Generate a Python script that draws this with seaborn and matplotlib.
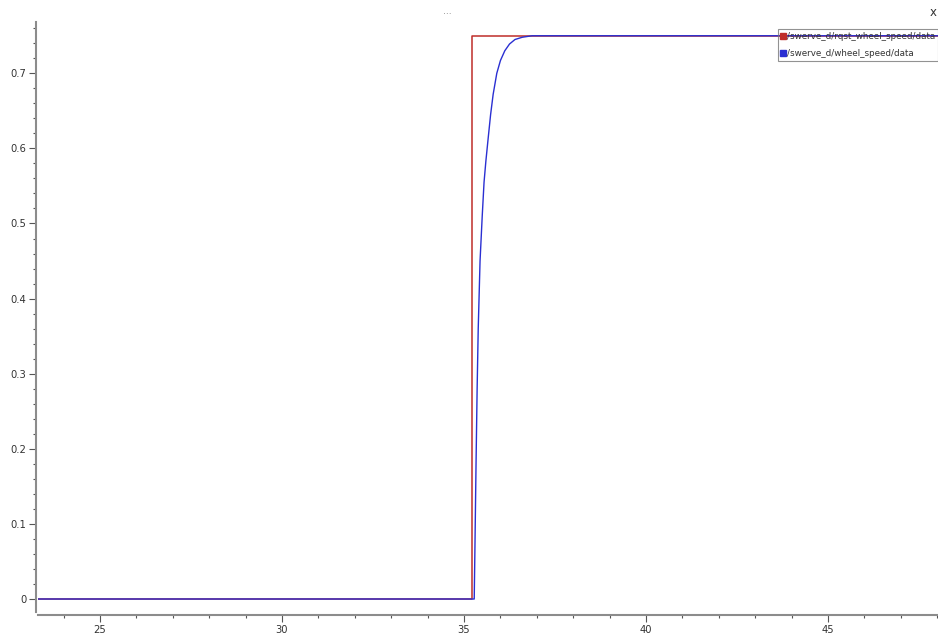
import numpy as np
import pandas as pd
import seaborn as sns
import matplotlib.pyplot as plt
from matplotlib.lines import Line2D
from matplotlib.ticker import MultipleLocator

# values (time in s, wheel speed)
rqst_time = [23.3, 35.22, 35.22, 48.1]
rqst_speed = [0.0, 0.0, 0.75, 0.75]

wheel_time = [23.3, 35.28, 35.30, 35.33, 35.36, 35.39, 35.44, 35.50, 35.55,
              35.60, 35.66, 35.73, 35.80, 35.90, 36.00, 36.12, 36.25, 36.40,
              36.60, 36.87, 48.1]
wheel_speed = [0.0, 0.0, 0.07, 0.18, 0.28, 0.36, 0.45, 0.51, 0.555,
               0.583, 0.612, 0.645, 0.672, 0.700, 0.717, 0.730, 0.739, 0.745,
               0.748, 0.75, 0.75]

labels = ['/swerve_d/rqst_wheel_speed/data', '/swerve_d/wheel_speed/data']
colors = ['#bf2d29', '#2a2fd2']

df_rqst = pd.DataFrame({'t': rqst_time, 'v': rqst_speed})
df_wheel = pd.DataFrame({'t': wheel_time, 'v': wheel_speed})

sns.set_style('white')
plt.rcParams['font.family'] = ['DejaVu Sans']

fig = plt.figure(figsize=(9.38, 6.38), dpi=100)
ax = fig.add_axes([38 / 938, 26 / 638, 900 / 938, 590 / 638])

sns.lineplot(data=df_rqst, x='t', y='v', sort=False, estimator=None,
             color=colors[0], linewidth=1.1, ax=ax)
sns.lineplot(data=df_wheel, x='t', y='v', sort=False, estimator=None,
             color=colors[1], linewidth=1.0, ax=ax)

ax.set_xlim(23.297, 48.02)
ax.set_ylim(-0.0173, 0.7683)
ax.set_xlabel('')
ax.set_ylabel('')

# qwt-like detached axes
for s in ['top', 'right']:
    ax.spines[s].set_visible(False)
ax.spines['left'].set_position(('outward', 1.5))
ax.spines['bottom'].set_position(('outward', 2.2))
for s in ['left', 'bottom']:
    ax.spines[s].set_color('#8c8c8c')
    ax.spines[s].set_linewidth(1.5)

ax.xaxis.set_major_locator(MultipleLocator(5))
ax.xaxis.set_minor_locator(MultipleLocator(1))
ax.yaxis.set_major_locator(MultipleLocator(0.1))
ax.yaxis.set_minor_locator(MultipleLocator(0.02))
ax.yaxis.set_major_formatter(plt.FuncFormatter(lambda v, p: f'{v:g}'))
ax.tick_params(which='major', length=5, width=0.8, color='#555555',
               labelsize=7.2, labelcolor='#333333', pad=2)
ax.tick_params(which='minor', length=2.5, width=0.8, color='#555555')
ax.tick_params(axis='x', which='both', bottom=True)
ax.tick_params(axis='y', which='both', left=True)

handles = [Line2D([], [], marker='s', linestyle='none', markersize=4.5,
                  color=c) for c in colors]
leg = fig.legend(handles, labels, loc='upper left',
                 bbox_to_anchor=(778 / 938, 1 - 29 / 638),
                 fontsize=6.3, frameon=True, fancybox=False,
                 borderpad=0.3, handlelength=0.6, handletextpad=0.1,
                 labelspacing=0.95, borderaxespad=0)
leg.get_frame().set_facecolor('none')
leg.get_frame().set_edgecolor('#777777')
leg.get_frame().set_linewidth(0.8)
for t in leg.get_texts():
    t.set_color('#333333')

fig.text(447 / 938, 1 - 12 / 638, '...', color='#777777', fontsize=6.5,
         ha='center', va='center')
fig.text(930 / 938, 1 - 12 / 638, 'x', color='#333333', fontsize=8.5,
         ha='left', va='center')

fig.savefig('out.png', dpi=100)
